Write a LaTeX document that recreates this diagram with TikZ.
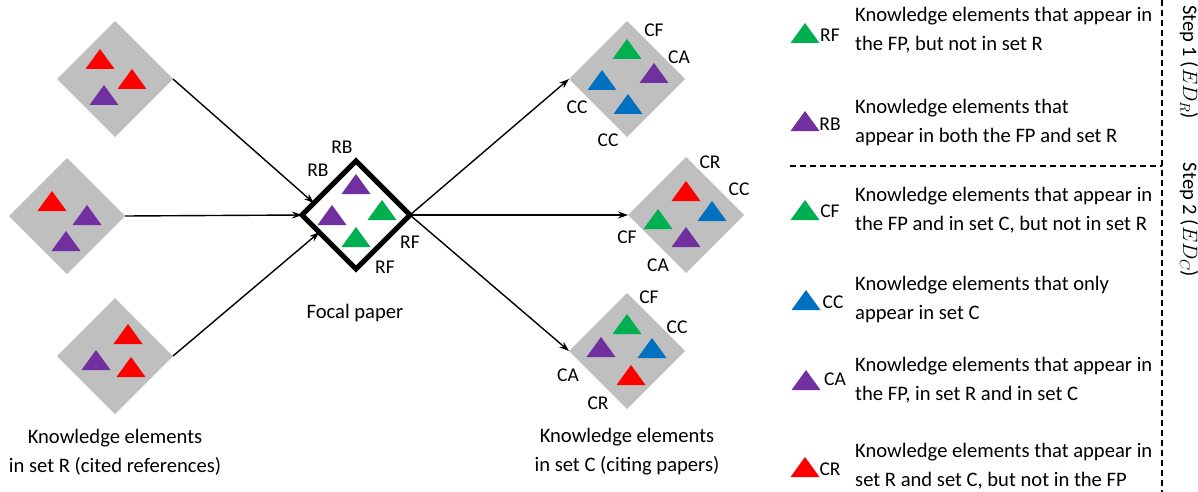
\documentclass[tikz,border=0pt]{standalone}
\usepackage{fontspec}
\setmainfont{Carlito}
\usetikzlibrary{shapes.geometric,arrows.meta,calc}
\definecolor{kgrey}{HTML}{BFBFBF}
\definecolor{kred}{HTML}{FF0000}
\definecolor{kgreen}{HTML}{00B050}
\definecolor{kpurple}{HTML}{7030A0}
\definecolor{kblue}{HTML}{0070C0}
\begin{document}
\begin{tikzpicture}[x=1pt,y=-1pt,
  setbox/.style={diamond,fill=kgrey,draw=none,minimum size=116pt,inner sep=0pt,outer sep=0pt,aspect=1},
  focalbox/.style={diamond,fill=white,draw=black,line width=5pt,minimum size=108pt,inner sep=0pt,outer sep=0pt,aspect=1},
  lab/.style={font=\fontsize{19.5}{19.5}\selectfont,inner sep=0pt},
  txt/.style={font=\fontsize{20.6}{29}\selectfont,align=center,inner sep=0pt},
  leg/.style={font=\fontsize{20.6}{29}\selectfont,align=left,anchor=west,inner sep=0pt},
  arr/.style={-{Stealth[length=10pt,width=7pt]},line width=1.4pt},
  dashline/.style={dashed,dash pattern=on 6pt off 4pt,line width=1.4pt},
  pics/tri/.style={code={\fill[#1] (0,0) -- (14.5,20) -- (-14.5,20) -- cycle;}}
]
\useasboundingbox (0,0) rectangle (1198,492);

% left sets
\node[setbox] (L1) at (115,79) {};
\node[setbox] (L2) at (67,216) {};
\node[setbox] (L3) at (115,356) {};
\pic at (100,49) {tri=kred};
\pic at (132,69) {tri=kred};
\pic at (104,85) {tri=kpurple};
\pic at (52,191) {tri=kred};
\pic at (87,205) {tri=kpurple};
\pic at (66,231) {tri=kpurple};
\pic at (128,324) {tri=kred};
\pic at (96,350) {tri=kpurple};
\pic at (131,357) {tri=kred};

% focal paper
\node[focalbox] (F) at (356,215) {};
\pic at (356,174) {tri=kpurple};
\pic at (332,205) {tri=kpurple};
\pic at (382,200) {tri=kgreen};
\pic at (356,227) {tri=kgreen};
\node[lab] (rb1) at (342,147) {RB};
\node[lab] (rb2) at (318,170) {RB};
\node[lab] (rf1) at (410,242) {RF};
\node[lab] (rf2) at (385,267) {RF};
\node[txt] (ftxt) at (355,313) {Focal paper};

% right sets
\node[setbox] (C1) at (627,79) {};
\node[setbox] (C2) at (686,215) {};
\node[setbox] (C3) at (627,351) {};
\pic at (627,39) {tri=kgreen};
\pic at (602,70) {tri=kblue};
\pic at (654,63) {tri=kpurple};
\pic at (628,94) {tri=kblue};
\node[lab] at (654,30) {CF};
\node[lab] at (679,57) {CA};
\node[lab] at (577,107) {CC};
\node[lab] at (608,140) {CC};

\pic at (686,181) {tri=kred};
\pic at (712,201) {tri=kblue};
\pic at (658,209) {tri=kgreen};
\pic at (686,227) {tri=kpurple};
\node[lab] at (710,162) {CR};
\node[lab] at (739,189) {CC};
\node[lab] at (627,237) {CF};
\node[lab] at (658,265) {CA};

\pic at (627,314) {tri=kgreen};
\pic at (601,337) {tri=kpurple};
\pic at (652,338) {tri=kblue};
\pic at (631,365) {tri=kred};
\node[lab] at (649,297) {CF};
\node[lab] at (677,327) {CC};
\node[lab] at (568,375) {CA};
\node[lab] at (598,403) {CR};

% captions
\node[txt] (ltxt) at (115,452) {Knowledge elements\\in set R (cited references)};
\node[txt] (rtxt) at (627,452) {Knowledge elements\\in set C (citing papers)};

% arrows
\draw[arr] (L1.east) -- ($(F.west)!0.22!(F.north)$);
\draw[arr] (L2.east) -- (F.west);
\draw[arr] (L3.east) -- ($(F.west)!0.32!(F.south)$);
\draw[arr] (F.east) -- (C1.west);
\draw[arr] (F.east) -- (C2.west);
\draw[arr] (F.east) -- (C3.west);

% legend
\pic at (805,23) {tri=kgreen};
\node[lab] at (830,35) {RF};
\node[leg] at (855,30) {Knowledge elements that appear in\\the FP, but not in set R};
\pic at (805,111) {tri=kpurple};
\node[lab] at (830,124) {RB};
\node[leg] at (855,122.5) {Knowledge elements that\\appear in both the FP and set R};
\pic at (805,200) {tri=kgreen};
\node[lab] at (830,211) {CF};
\node[leg] at (855,210) {Knowledge elements that appear in\\the FP and in set C, but not in set R};
\pic at (806,290) {tri=kblue};
\node[lab] at (833,302) {CC};
\node[leg] at (855,300) {Knowledge elements that only\\appear in set C};
\pic at (806,370) {tri=kpurple};
\node[lab] at (835,379) {CA};
\node[leg] at (855,380.5) {Knowledge elements that appear in\\the FP, in set R and in set C};
\pic at (805,457) {tri=kred};
\node[lab] at (830,469) {CR};
\node[leg] at (855,466.5) {Knowledge elements that appear in\\set R and set C, but not in the FP};

% separators
\coordinate (vtop) at (1162,0);
\coordinate (vbot) at (1162,492);
\coordinate (hl) at (790,166);
\coordinate (hr) at (1162,166);
\draw[dashline] (vtop) -- (vbot);
\draw[dashline] (hl) -- (hr);
\node[txt,rotate=-90] (s1) at (1189,62) {Step 1 ($ED_R$)};
\node[txt,rotate=-90] (s2) at (1189,220) {Step 2 ($ED_C$)};
\end{tikzpicture}
\end{document}
